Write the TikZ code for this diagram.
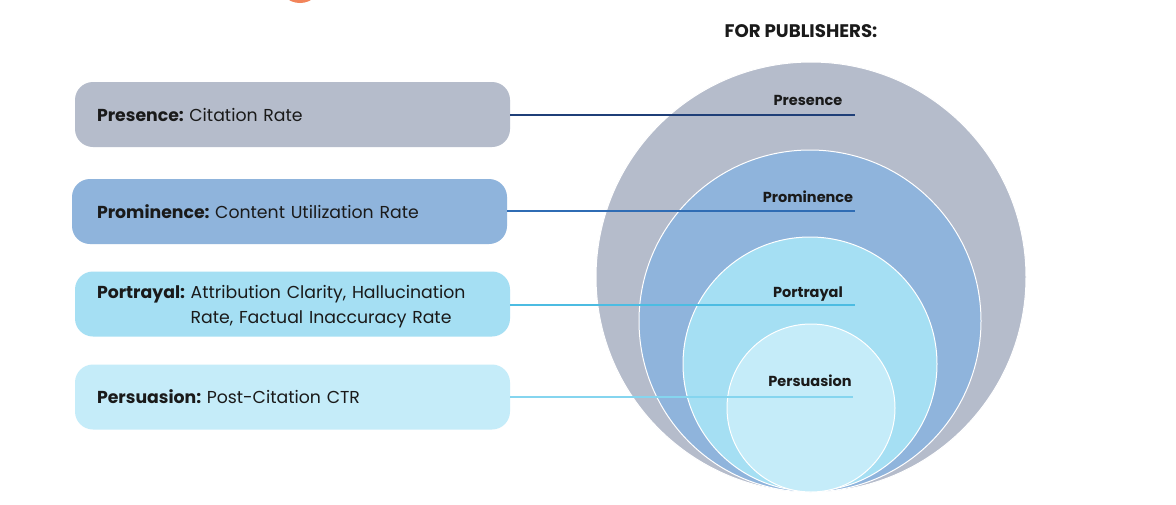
\documentclass[tikz,border=0pt]{standalone}
\usepackage{fontspec}
\setmainfont{Poppins}
\usetikzlibrary{positioning}

\definecolor{presFill}{HTML}{B5BCCB}
\definecolor{promFill}{HTML}{8FB4DC}
\definecolor{portFill}{HTML}{A5DFF3}
\definecolor{persFill}{HTML}{C5ECF9}
\definecolor{presLine}{HTML}{1F3F78}
\definecolor{promLine}{HTML}{2F6CB4}
\definecolor{portLine}{HTML}{4CBCE2}
\definecolor{persLine}{HTML}{85D5EF}
\definecolor{topArc}{HTML}{F2845A}
\definecolor{txt}{HTML}{1A1A1A}

\newcommand{\boxfont}{\fontsize{17.3}{25}\selectfont\spaceskip=3.8pt plus 1pt minus 1pt\relax}
\newcommand{\lbl}[1]{\textbf{#1:}\hspace{5.5pt}}

\begin{document}
\begin{tikzpicture}[x=1pt,y=-1pt,
  box/.style={rounded corners=18pt, minimum width=435pt, minimum height=65pt,
    text width=391pt, inner xsep=22pt, align=left, text=txt, font=\boxfont},
  ring/.style={draw=white, line width=1pt},
  ringlabel/.style={font=\bfseries\fontsize{14.5}{16}\selectfont, text=txt}]

\useasboundingbox (0,0) rectangle (1176,504);
\fill[white] (0,0) rectangle (1176,504);

% Orange shape cut by the top edge
\fill[topArc] (300,-19) circle[radius=22];

% Title
\node[font=\bfseries\fontsize{18.2}{20}\selectfont, text=txt] (title) at (801,31) {FOR PUBLISHERS:};

% Circles
\fill[presFill, ring] (811,277) circle[radius=215];
\fill[promFill, ring] (810,321) circle[radius=171];
\fill[portFill, ring] (810,364) circle[radius=127];
\fill[persFill, ring] (811,408) circle[radius=84];

% Boxes
\node[box, fill=presFill] (pres) at (292.5,114.5) {\lbl{Presence}Citation Rate};
\node[box, fill=promFill, inner xsep=25pt, text width=385pt] (prom) at (289.5,211.5) {\lbl{Prominence}Content Utilization Rate};
\node[box, fill=portFill] (port) at (292.5,304) {\rule{0pt}{19pt}\lbl{Portrayal}Attribution Clarity, Hallucination\\
  \hphantom{\lbl{Portrayal}}Rate, Factual Inaccuracy Rate};
\node[box, fill=persFill] (pers) at (292.5,397) {\lbl{Persuasion}Post-Citation CTR};

% Line ends
\coordinate (presEnd) at (855,115);
\coordinate (promEnd) at (855,211);
\coordinate (portEnd) at (855,305);
\coordinate (persEnd) at (853,397);

% Connectors
\draw[presLine, line width=1.3pt] (pres.east |- presEnd) -- (presEnd);
\draw[promLine, line width=1.3pt] (prom.east |- promEnd) -- (promEnd);
\draw[portLine, line width=1.3pt] (port.east |- portEnd) -- (portEnd);
\draw[persLine, line width=1.3pt] (pers.east |- persEnd) -- (persEnd);

% Circle labels
\node[ringlabel] (presLab) at (808,100) {Presence};
\node[ringlabel] (promLab) at (808,197) {Prominence};
\node[ringlabel] (portLab) at (808,294) {Portrayal};
\node[ringlabel] (persLab) at (810,381) {Persuasion};
\end{tikzpicture}
\end{document}
